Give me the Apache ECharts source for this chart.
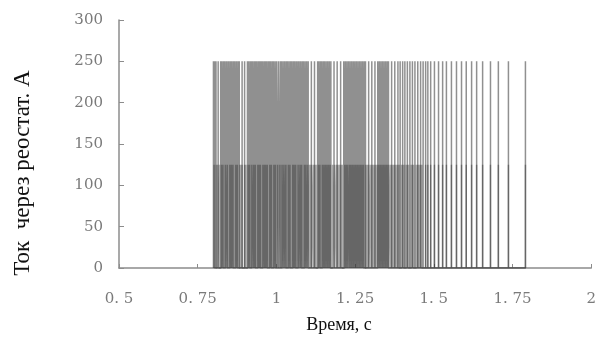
<!DOCTYPE html>
<html>
<head>
<meta charset="utf-8">
<script src="https://cdn.jsdelivr.net/npm/echarts@6/dist/echarts.min.js"></script>
<style>
  html, body { margin: 0; padding: 0; background: #fff; }
  #chart { width: 599px; height: 338px; }
</style>
</head>
<body>
<div id="chart"></div>
<script>
// pulse times (s) where current reaches 250 A
const highPulseTimes = [
  0.800, 0.804, 0.808, 0.815, 0.823, 0.827, 0.832, 0.836, 0.841, 0.846,
  0.850, 0.855, 0.859, 0.864, 0.868, 0.873, 0.878, 0.882, 0.891, 0.899,
  0.908, 0.912, 0.917, 0.921, 0.925, 0.930, 0.934, 0.938, 0.943, 0.947,
  0.951, 0.955, 0.960, 0.964, 0.968, 0.973, 0.977, 0.981, 0.986, 0.990,
  0.995, 1.000, 1.006, 1.012, 1.016, 1.021, 1.026, 1.031, 1.035, 1.040,
  1.045, 1.049, 1.054, 1.058, 1.063, 1.068, 1.072, 1.077, 1.082, 1.086,
  1.091, 1.096, 1.101, 1.111, 1.121, 1.131, 1.135, 1.140, 1.144, 1.149,
  1.153, 1.158, 1.163, 1.168, 1.173, 1.183, 1.193, 1.204, 1.214, 1.219,
  1.224, 1.229, 1.234, 1.239, 1.244, 1.249, 1.254, 1.259, 1.264, 1.269,
  1.274, 1.279, 1.283, 1.293, 1.303, 1.313, 1.322, 1.327, 1.332, 1.337,
  1.342, 1.347, 1.352, 1.356, 1.366, 1.376, 1.386, 1.393, 1.401, 1.408,
  1.416, 1.424, 1.432, 1.440, 1.449, 1.458, 1.466, 1.474, 1.481, 1.490,
  1.502, 1.515, 1.528, 1.540, 1.556, 1.572, 1.588, 1.603, 1.620, 1.636,
  1.655, 1.680, 1.705, 1.737, 1.791
];
// pulse times (s) drawn up to 125 A
const lowPulseTimes = [
  0.802, 0.809, 0.812, 0.818, 0.825, 0.830, 0.838, 0.844, 0.852, 0.857,
  0.862, 0.871, 0.876, 0.884, 0.887, 0.891, 0.899, 0.903, 0.910, 0.915,
  0.922, 0.928, 0.933, 0.941, 0.945, 0.949, 0.957, 0.962, 0.966, 0.971,
  0.979, 0.984, 0.992, 0.997, 1.004, 1.011, 1.018, 1.024, 1.030, 1.038,
  1.043, 1.052, 1.056, 1.061, 1.069, 1.075, 1.080, 1.089, 1.094, 1.100,
  1.106, 1.111, 1.117, 1.121, 1.126, 1.133, 1.138, 1.146, 1.151, 1.156,
  1.161, 1.166, 1.171, 1.178, 1.184, 1.190, 1.195, 1.200, 1.205, 1.209,
  1.217, 1.222, 1.227, 1.233, 1.237, 1.242, 1.247, 1.252, 1.257, 1.262,
  1.267, 1.272, 1.277, 1.284, 1.289, 1.294, 1.300, 1.305, 1.310, 1.315,
  1.320, 1.325, 1.330, 1.335, 1.340, 1.345, 1.350, 1.355, 1.361, 1.366,
  1.371, 1.375, 1.380, 1.385, 1.390, 1.397, 1.401, 1.405, 1.412, 1.416,
  1.420, 1.428, 1.432, 1.436, 1.444, 1.449, 1.453, 1.458, 1.462, 1.474,
  1.481, 1.490, 1.502, 1.515, 1.528, 1.540, 1.556, 1.572, 1.588, 1.603,
  1.620, 1.636, 1.655, 1.680, 1.705, 1.737, 1.791
];
const highLevel = 250;
const lowLevel = 125;

const xMin = 0.5, xMax = 2, xStep = 0.25;
const yMin = 0, yMax = 300, yStep = 50;

function spikes(times, level) {
  const out = [];
  times.forEach(t => { out.push([t, 0], [t, level], [t, 0]); });
  return out;
}

const chart = echarts.init(document.getElementById('chart'), null, { renderer: 'canvas' });

const labelFont = { color: '#7a7a7a', fontFamily: 'DejaVu Serif', fontSize: 15 };

chart.setOption({
  animation: false,
  grid: { left: 119, right: 6, top: 20, bottom: 70 },
  xAxis: {
    type: 'value',
    min: xMin, max: xMax, interval: xStep,
    axisLine: { lineStyle: { color: '#8c8c8c', width: 1.5 } },
    axisTick: { inside: true, length: 4, lineStyle: { color: '#8c8c8c' } },
    axisLabel: Object.assign({ margin: 24, formatter: v => String(v).replace('.', '. ') }, labelFont),
    splitLine: { show: false }
  },
  yAxis: {
    type: 'value',
    min: yMin, max: yMax, interval: yStep,
    axisLine: { show: true, lineStyle: { color: '#8c8c8c', width: 1.5 } },
    axisTick: { show: true, inside: true, length: 5, lineStyle: { color: '#8c8c8c' } },
    axisLabel: Object.assign({ margin: 16 }, labelFont),
    splitLine: { show: false }
  },
  series: [
    {
      type: 'line',
      data: spikes(highPulseTimes, highLevel),
      showSymbol: false,
      lineStyle: { width: 1.5, color: 'rgba(70,70,70,0.6)' },
      z: 2
    },
    {
      type: 'line',
      data: spikes(lowPulseTimes, lowLevel),
      showSymbol: false,
      lineStyle: { width: 1.5, color: 'rgba(40,40,40,0.4)' },
      z: 3
    }
  ],
  graphic: [
    {
      type: 'text',
      x: 23, y: 173,
      rotation: Math.PI / 2,
      style: {
        text: 'Ток  через реостат. А',
        fill: '#111',
        font: '23px "Liberation Serif", serif',
        align: 'center',
        verticalAlign: 'middle'
      }
    },
    {
      type: 'text',
      x: 339, y: 325,
      style: {
        text: 'Время, с',
        fill: '#111',
        font: '18px "Liberation Serif", serif',
        align: 'center',
        verticalAlign: 'middle'
      }
    }
  ]
});
</script>
</body>
</html>
